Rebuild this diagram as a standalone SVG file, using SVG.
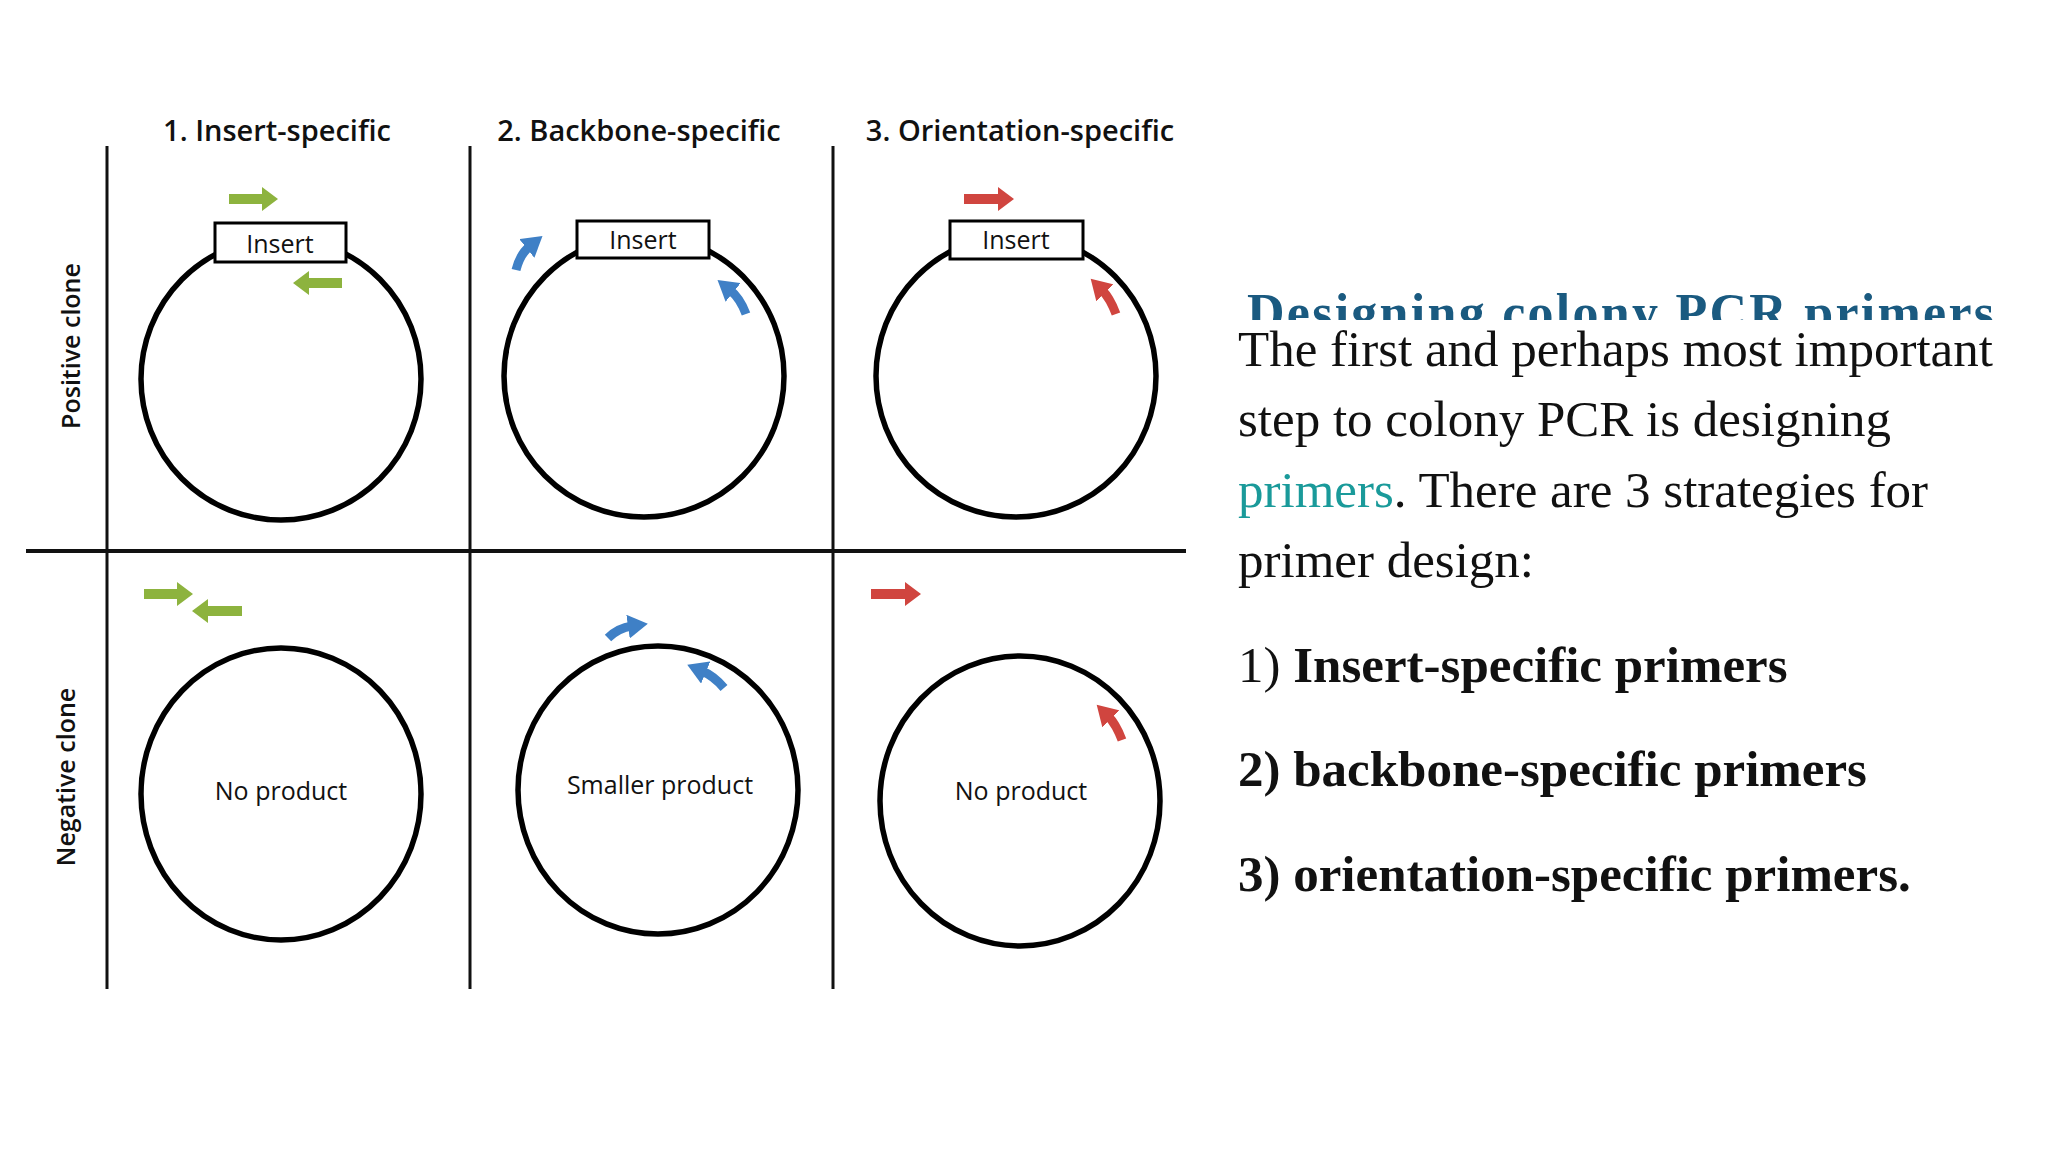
<svg xmlns="http://www.w3.org/2000/svg" width="2048" height="1152" viewBox="0 0 2048 1152">
<style>
.grid{stroke:#111;stroke-width:3;fill:none}
.circ{stroke:#000;stroke-width:5.5;fill:none}
.box{fill:#fff;stroke:#000;stroke-width:3}
.hd{font-family:"Open Sans",sans-serif;font-weight:600;font-size:29px;fill:#111;text-anchor:middle}
.lb{font-family:"Open Sans",sans-serif;font-size:25px;fill:#111;text-anchor:middle}
.row{font-family:"Open Sans",sans-serif;font-weight:600;font-size:25px;fill:#111;text-anchor:middle}
.body{font-family:"Liberation Serif",serif;font-size:51px;fill:#111}
.g{fill:#8db33e}.r{fill:#d0453f}.b{fill:#3f80c6}
.cg{stroke:#3f80c6;stroke-width:9;fill:none}
.cr{stroke:#d0453f;stroke-width:9;fill:none}
</style>
<defs>
<marker id="hb" markerUnits="userSpaceOnUse" markerWidth="22" markerHeight="24" refX="4" refY="12" orient="auto"><path d="M0,0 L20,12 L0,24 Z" fill="#3f80c6"/></marker>
<marker id="hr" markerUnits="userSpaceOnUse" markerWidth="22" markerHeight="24" refX="4" refY="12" orient="auto"><path d="M0,0 L20,12 L0,24 Z" fill="#d0453f"/></marker>
<clipPath id="hc"><rect x="1200" y="250" width="848" height="70"/></clipPath>
</defs>
<rect width="2048" height="1152" fill="#fff"/>
<g id="grid">
<line class="grid" x1="107" y1="146" x2="107" y2="989"/>
<line class="grid" x1="470" y1="146" x2="470" y2="989"/>
<line class="grid" x1="833" y1="146" x2="833" y2="989"/>
<line class="grid" x1="26" y1="551" x2="1186" y2="551" style="stroke-width:4"/>
</g>
<g id="headers">
<text class="hd" x="277" y="141">1. Insert-specific</text>
<text class="hd" x="639" y="141">2. Backbone-specific</text>
<text class="hd" x="1020" y="141">3. Orientation-specific</text>
<text class="row" transform="translate(80,346) rotate(-90)">Positive clone</text>
<text class="row" transform="translate(75,777) rotate(-90)">Negative clone</text>
</g>
<g id="pos1">
<ellipse class="circ" cx="281" cy="379" rx="140" ry="141"/>
<rect class="box" x="215" y="223" width="131" height="39"/>
<text class="lb" x="280" y="253">Insert</text>
<polygon class="g" points="229,194 262,194 262,187 278,199 262,211 262,204 229,204"/>
<polygon class="g" points="342,278 309,278 309,271 293,283 309,295 309,288 342,288"/>
</g>
<g id="pos2">
<ellipse class="circ" cx="644" cy="376" rx="140" ry="141"/>
<rect class="box" x="577" y="221" width="132" height="37"/>
<text class="lb" x="643" y="249">Insert</text>
<path class="cg" d="M516,270 Q520,254 530,246" marker-end="url(#hb)"/>
<path class="cg" d="M746,314 Q740,298 730,290" marker-end="url(#hb)"/>
</g>
<g id="pos3">
<ellipse class="circ" cx="1016" cy="376" rx="140" ry="141"/>
<rect class="box" x="950" y="221" width="133" height="38"/>
<text class="lb" x="1016" y="249">Insert</text>
<polygon class="r" points="964,194 998,194 998,187 1014,199 998,211 998,204 964,204"/>
<path class="cr" d="M1116,314 Q1110,298 1102,290" marker-end="url(#hr)"/>
</g>
<g id="neg1">
<ellipse class="circ" cx="281" cy="794" rx="140" ry="146"/>
<text class="lb" x="281" y="800">No product</text>
<polygon class="g" points="144,589 177,589 177,582 193,594 177,606 177,599 144,599"/>
<polygon class="g" points="242,606 208,606 208,599 192,611 208,623 208,616 242,616"/>
</g>
<g id="neg2">
<ellipse class="circ" cx="658" cy="790" rx="140" ry="144"/>
<text class="lb" x="660" y="794">Smaller product</text>
<path class="cg" d="M608,638 Q618,628 632,626" marker-end="url(#hb)"/>
<path class="cg" d="M724,688 Q714,676 702,671" marker-end="url(#hb)"/>
</g>
<g id="neg3">
<ellipse class="circ" cx="1020" cy="801" rx="140" ry="145"/>
<text class="lb" x="1021" y="800">No product</text>
<polygon class="r" points="871,589 905,589 905,582 921,594 905,606 905,599 871,599"/>
<path class="cr" d="M1122,740 Q1116,724 1108,716" marker-end="url(#hr)"/>
</g>
<g id="text">
<text x="1247" y="330" clip-path="url(#hc)" font-family="Liberation Serif,serif" font-weight="bold" font-size="52" fill="#1a5a80" textLength="747">Designing colony PCR primers</text>
<text class="body" x="1238" y="366">The first and perhaps most important</text>
<text class="body" x="1238" y="436">step to colony PCR is designing</text>
<text class="body" x="1238" y="507"><tspan fill="#1a9a9a">primers</tspan>. There are 3 strategies for</text>
<text class="body" x="1238" y="577">primer design:</text>
<text class="body" x="1238" y="682">1) <tspan font-weight="bold">Insert-specific primers</tspan></text>
<text class="body" x="1238" y="786" font-weight="bold">2) backbone-specific primers</text>
<text class="body" x="1238" y="891" font-weight="bold">3) orientation-specific primers.</text>
</g>
</svg>
